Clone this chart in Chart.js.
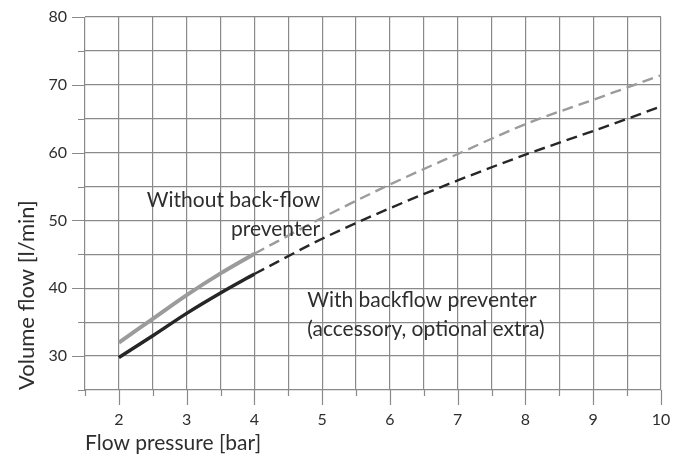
<!DOCTYPE html>
<html>
<head>
<meta charset="utf-8">
<script src="https://cdn.jsdelivr.net/npm/chart.js@4/dist/chart.umd.min.js"></script>
<style>
  html, body { margin: 0; padding: 0; background: #fff; }
  #wrap { width: 685px; height: 456px; position: relative; }
</style>
</head>
<body>
<div id="wrap"><canvas id="flowChart"></canvas></div>
<script>
// flow pressure in bar
const pressure = [2, 2.5, 3, 3.5, 4, 5, 6, 7, 8, 9, 10];
// volume flow in l/min
const withoutPreventer = [32.0, 35.5, 39.0, 42.2, 45.1, 50.4, 55.3, 59.8, 64.2, 67.8, 71.4];
const withPreventer = [29.8, 33.0, 36.3, 39.3, 42.1, 47.3, 51.8, 55.9, 59.7, 63.2, 66.8];
// curves are measured up to 4 bar, dashed beyond
const measuredUpTo = 4;

const xTickLabels = [2, 3, 4, 5, 6, 7, 8, 9, 10];
const yTickLabels = [30, 40, 50, 60, 70, 80];

const notes = [
    { lines: ['Without back-flow', 'preventer'], x: 4.97, y: 53.0, align: 'right' },
    { lines: ['With backflow preventer', '(accessory, optional extra)'], x: 4.78, y: 38.2, align: 'left' }
];

const FONT = 'Lato, "Noto Sans", sans-serif';
const GRID = '#8a8a8a';
const TEXT = '#2e2e2e';

const toPoints = (vals, keep) => pressure
    .map((p, i) => ({ x: p, y: vals[i] }))
    .filter(pt => keep(pt.x));

const solid = x => x <= measuredUpTo;
const dashed = x => x >= measuredUpTo;

// extra tick marks (long at labelled values) + text notes
const extras = {
    id: 'extras',
    beforeDatasetsDraw(chart) {
        const { ctx, chartArea, scales: { x, y } } = chart;
        ctx.save();
        ctx.strokeStyle = GRID;
        ctx.lineWidth = 1.2;
        ctx.beginPath();
        x.ticks.forEach(t => {
            const px = Math.round(x.getPixelForValue(t.value)) + 0.5;
            const len = xTickLabels.includes(t.value) ? 15 : 6;
            ctx.moveTo(px, chartArea.bottom);
            ctx.lineTo(px, chartArea.bottom + len);
        });
        y.ticks.forEach(t => {
            const py = Math.round(y.getPixelForValue(t.value)) + 0.5;
            const len = yTickLabels.includes(t.value) ? 13 : 7;
            ctx.moveTo(chartArea.left, py);
            ctx.lineTo(chartArea.left - len, py);
        });
        ctx.stroke();
        ctx.restore();
    },
    afterDatasetsDraw(chart) {
        const { ctx, scales: { x, y } } = chart;
        ctx.save();
        ctx.fillStyle = TEXT;
        ctx.font = '21px ' + FONT;
        ctx.textBaseline = 'middle';
        notes.forEach(n => {
            ctx.textAlign = n.align;
            const px = x.getPixelForValue(n.x);
            const py = y.getPixelForValue(n.y);
            n.lines.forEach((line, i) => ctx.fillText(line, px, py + i * 29));
        });
        ctx.restore();
    }
};

new Chart(document.getElementById('flowChart'), {
    type: 'line',
    data: {
        datasets: [
            {
                label: 'Without back-flow preventer',
                data: toPoints(withoutPreventer, solid),
                borderColor: '#9b9b9b',
                borderWidth: 4,
                cubicInterpolationMode: 'monotone'
            },
            {
                label: 'Without back-flow preventer (extrapolated)',
                data: toPoints(withoutPreventer, dashed),
                borderColor: '#9b9b9b',
                borderWidth: 2.4,
                borderDash: [11, 6],
                cubicInterpolationMode: 'monotone'
            },
            {
                label: 'With backflow preventer',
                data: toPoints(withPreventer, solid),
                borderColor: '#262626',
                borderWidth: 3.5,
                cubicInterpolationMode: 'monotone'
            },
            {
                label: 'With backflow preventer (extrapolated)',
                data: toPoints(withPreventer, dashed),
                borderColor: '#262626',
                borderWidth: 2.4,
                borderDash: [11, 6],
                cubicInterpolationMode: 'monotone'
            }
        ]
    },
    options: {
        responsive: true,
        maintainAspectRatio: false,
        animation: false,
        elements: { point: { radius: 0 }, line: { borderCapStyle: 'butt' } },
        layout: { padding: { top: 17, right: 24, left: 0, bottom: 0 } },
        plugins: { legend: { display: false }, tooltip: { enabled: false } },
        scales: {
            x: {
                type: 'linear',
                min: 1.5,
                max: 10,
                afterFit: s => { s.height = 66; },
                afterBuildTicks: s => {
                    s.ticks = [];
                    for (let v = 1.5; v <= 10; v += 0.5) s.ticks.push({ value: v });
                },
                // invisible tick marks only set the label offset
                grid: { color: GRID, lineWidth: 1.2, drawTicks: true, tickLength: 20, tickColor: 'rgba(0,0,0,0)' },
                border: { display: false },
                ticks: {
                    padding: 0,
                    autoSkip: false,
                    maxRotation: 0,
                    color: TEXT,
                    font: { family: FONT, size: 16 },
                    callback: v => xTickLabels.includes(v) ? String(v) : ''
                },
                title: {
                    display: true,
                    text: 'Flow pressure [bar]',
                    align: 'start',
                    color: TEXT,
                    font: { family: FONT, size: 21 },
                    padding: { top: 0, bottom: 0 }
                }
            },
            y: {
                min: 25,
                max: 80,
                afterFit: s => { s.width = 85; },
                grid: { color: GRID, lineWidth: 1.2, drawTicks: true, tickLength: 18, tickColor: 'rgba(0,0,0,0)' },
                border: { display: false },
                ticks: {
                    stepSize: 5,
                    padding: 0,
                    color: TEXT,
                    font: { family: FONT, size: 16 },
                    callback: v => yTickLabels.includes(v) ? String(v) : ''
                },
                title: {
                    display: true,
                    text: 'Volume flow [l/min]',
                    align: 'start',
                    color: TEXT,
                    font: { family: FONT, size: 22 },
                    padding: { top: 14, bottom: 0 }
                }
            }
        }
    },
    plugins: [extras]
});
</script>
</body>
</html>
